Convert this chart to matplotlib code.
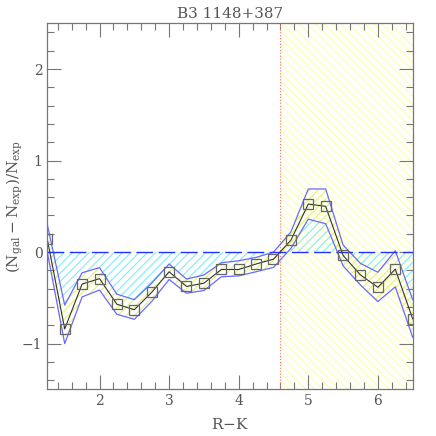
import numpy as np
import matplotlib
matplotlib.use('Agg')
import matplotlib.pyplot as plt
from matplotlib.ticker import MultipleLocator

plt.rcParams['font.family'] = 'DejaVu Serif'
plt.rcParams['mathtext.fontset'] = 'dejavuserif'
plt.rcParams['hatch.linewidth'] = 0.8

# colour bins and measured overdensity
rk = [1.25, 1.5, 1.75, 2.0, 2.25, 2.5, 2.75, 3.0, 3.25, 3.5, 3.75, 4.0, 4.25,
      4.5, 4.75, 5.0, 5.25, 5.5, 5.75, 6.0, 6.25, 6.5]
dens = [0.14, -0.84, -0.35, -0.29, -0.57, -0.63, -0.44, -0.215, -0.375, -0.34,
        -0.19, -0.19, -0.13, -0.077, 0.13, 0.525, 0.50, -0.036, -0.25, -0.385,
        -0.186, -0.73]
upper = [0.30, -0.58, -0.226, -0.17, -0.46, -0.52, -0.34, -0.13, -0.295, -0.25,
         -0.117, -0.095, -0.058, 0.0, 0.22, 0.69, 0.69, 0.077, -0.124, -0.22,
         0.015, -0.52]
lower = [0.0, -1.0, -0.49, -0.415, -0.68, -0.735, -0.54, -0.30, -0.45, -0.42,
         -0.27, -0.26, -0.215, -0.167, 0.04, 0.36, 0.31, -0.15, -0.36, -0.54,
         -0.38, -0.93]
rk_cut = 4.6
title = 'B3 1148+387'

x = np.array(rk)
up = np.array(upper)
lo = np.array(lower)
txt = '#555555'

fig = plt.figure(figsize=(4.36, 4.36), dpi=100)
ax = fig.add_axes([0.1085, 0.107, 0.838, 0.8395])

# red-sequence region
ax.axvspan(rk_cut, 6.5, facecolor='none', edgecolor='#ffffa8', hatch='\\\\\\\\', lw=0)
ax.axvline(rk_cut, color='#ff7070', ls=':', lw=0.8)

# significance shading between zero and the band
ax.fill_between(x, 0, np.minimum(up, 0), interpolate=True, facecolor='none',
                edgecolor='#80ecff', hatch='////', lw=0)
ax.fill_between(x, 0, np.maximum(lo, 0), interpolate=True, facecolor='none',
                edgecolor='#80ecff', hatch='////', lw=0)
ax.fill_between(x, lo, up, facecolor='none', edgecolor='#e4f27a', hatch='////', lw=0)

ax.plot(x, up, color='#6a6aff', lw=0.9)
ax.plot(x, lo, color='#6a6aff', lw=0.9)
ax.axhline(0, color='#2030ff', lw=1.0, dashes=(12, 4))
ax.plot(x, dens, color='#333333', lw=0.8, marker='s', ms=7, mfc='none',
        mec='#666666', mew=0.9)

ax.set_xlim(1.25, 6.5)
ax.set_ylim(-1.5, 2.5)
ax.xaxis.set_major_locator(MultipleLocator(1))
ax.xaxis.set_minor_locator(MultipleLocator(0.2))
ax.yaxis.set_major_locator(MultipleLocator(1))
ax.yaxis.set_minor_locator(MultipleLocator(0.2))
ax.tick_params(which='both', direction='in', top=True, right=True, colors='#777777',
               labelcolor=txt, labelsize=10)
ax.tick_params(which='major', length=10, width=0.8)
ax.tick_params(which='minor', length=5, width=0.8)
for s in ax.spines.values():
    s.set_color('#777777')
    s.set_linewidth(0.9)

ax.set_title(title, fontsize=11, color=txt, pad=4)
ax.set_xlabel('R$-$K', fontsize=11, color=txt, labelpad=6)
ax.set_ylabel(r'$(\mathrm{N_{gal}}-\mathrm{N_{exp}})/\mathrm{N_{exp}}$', fontsize=11,
              color=txt)
ax.yaxis.set_label_coords(-0.06, 0.5)

fig.savefig('out.png', dpi=100)
